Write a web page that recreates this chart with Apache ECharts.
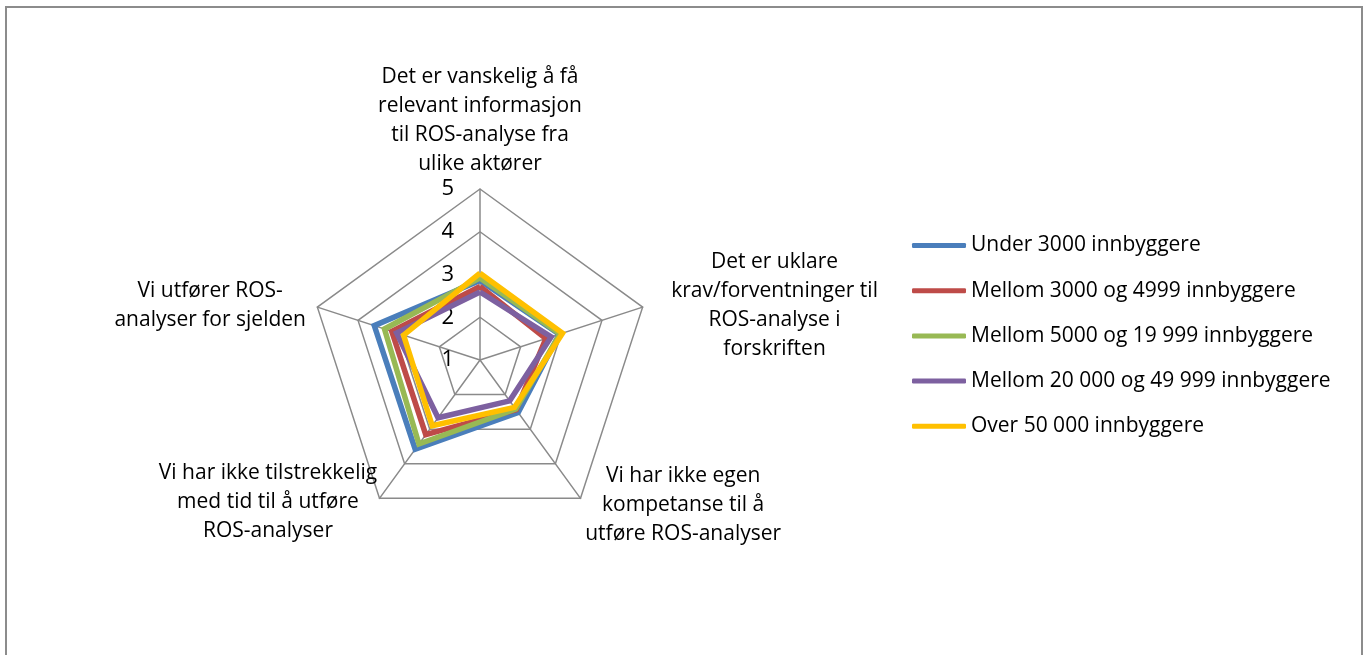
<!DOCTYPE html>
<html>
<head>
<meta charset="utf-8">
<script src="https://cdn.jsdelivr.net/npm/echarts@6/dist/echarts.min.js"></script>
<style>
  html, body { margin: 0; padding: 0; background: #fff; overflow: hidden; }
  .frame {
    position: absolute;
    left: 5px; top: 6px;
    width: 1354px; height: 700px;
    border: 2px solid #8c8c8c;
    border-bottom: none;
  }
  #chart { position: absolute; left: 0; top: 0; width: 1367px; height: 655px; }
</style>
</head>
<body>
<div class="frame"></div>
<div id="chart"></div>
<script>
// categories in the order Excel draws them (clockwise from the top)
const categories = [
  'Det er vanskelig å få\nrelevant informasjon\ntil ROS-analyse fra\nulike aktører',
  'Det er uklare\nkrav/forventninger til\nROS-analyse i\nforskriften',
  'Vi har ikke egen\nkompetanse til å\nutføre ROS-analyser',
  'Vi har ikke tilstrekkelig\nmed tid til å utføre\nROS-analyser',
  'Vi utfører ROS-\nanalyser for sjelden'
]

const seriesNames = [
  'Under 3000 innbyggere',
  'Mellom 3000 og 4999 innbyggere',
  'Mellom 5000 og 19 999 innbyggere',
  'Mellom 20 000 og 49 999 innbyggere',
  'Over 50 000 innbyggere'
]

const under3000 = [2.86, 2.95, 2.52, 3.58, 3.6]
const mellom3000 = [2.72, 2.62, 2.44, 3.16, 3.17]
const mellom5000 = [2.92, 2.97, 2.42, 3.43, 3.35]
const mellom20000 = [2.59, 2.75, 2.18, 2.67, 3.05]
const over50000 = [3.03, 3.03, 2.37, 2.9, 2.88]

const axisMin = 1
const axisMax = 5

const colors = ['#4a7ebb', '#be4b48', '#98b954', '#7d60a0', '#ffc000']
const values = [under3000, mellom3000, mellom5000, mellom20000, over50000]

// ECharts places indicators counter-clockwise, Excel clockwise
const order = [0, 4, 3, 2, 1]
const nameGaps = [8, 12, 4, 8, 30]
const namePads = [0, 4, 0, 0, 16]

const FONT = '"Open Sans", sans-serif'
const FS = 21

const indicator = order.map((idx, i) => ({
  name: categories[idx],
  min: axisMin,
  max: axisMax,
  nameGap: nameGaps[i],
  nameTextStyle: { padding: [namePads[i], 0, 0, 0] },
  axisLabel: i === 0
    ? { show: true, color: '#000', fontSize: 22, fontFamily: FONT, margin: 26, showMinLabel: true, showMaxLabel: true }
    : undefined
}))

const chart = echarts.init(document.getElementById('chart'))

chart.setOption({
  animation: false,
  color: colors,
  legend: {
    orient: 'vertical',
    left: 907,
    top: 230,
    itemWidth: 54,
    itemHeight: 5,
    itemGap: 24.2,
    icon: 'roundRect',
    textStyle: { color: '#000', fontSize: FS, fontFamily: FONT, lineHeight: 20 },
    data: seriesNames
  },
  radar: {
    center: [480, 360],
    radius: 171,
    startAngle: 90,
    splitNumber: 4,
    shape: 'polygon',
    axisName: {
      color: '#000',
      fontSize: FS,
      fontFamily: FONT,
      lineHeight: 29,
      formatter: name => name.split('\n').map(line => '{c|' + line + '}').join('\n'),
      rich: {
        c: { align: 'center', fontSize: FS, fontFamily: FONT, lineHeight: 29, color: '#000' }
      }
    },
    axisLine: { lineStyle: { color: '#8a8a8a', width: 1.5 } },
    axisTick: { show: false },
    axisLabel: { show: false },
    splitLine: { lineStyle: { color: '#8a8a8a', width: 1.5 } },
    splitArea: { show: false },
    indicator
  },
  series: [{
    type: 'radar',
    symbol: 'none',
    data: values.map((vals, s) => ({
      name: seriesNames[s],
      value: order.map(idx => vals[idx]),
      lineStyle: { color: colors[s], width: 5.5, join: 'miter' },
      itemStyle: { color: colors[s] }
    }))
  }]
})
</script>
</body>
</html>
